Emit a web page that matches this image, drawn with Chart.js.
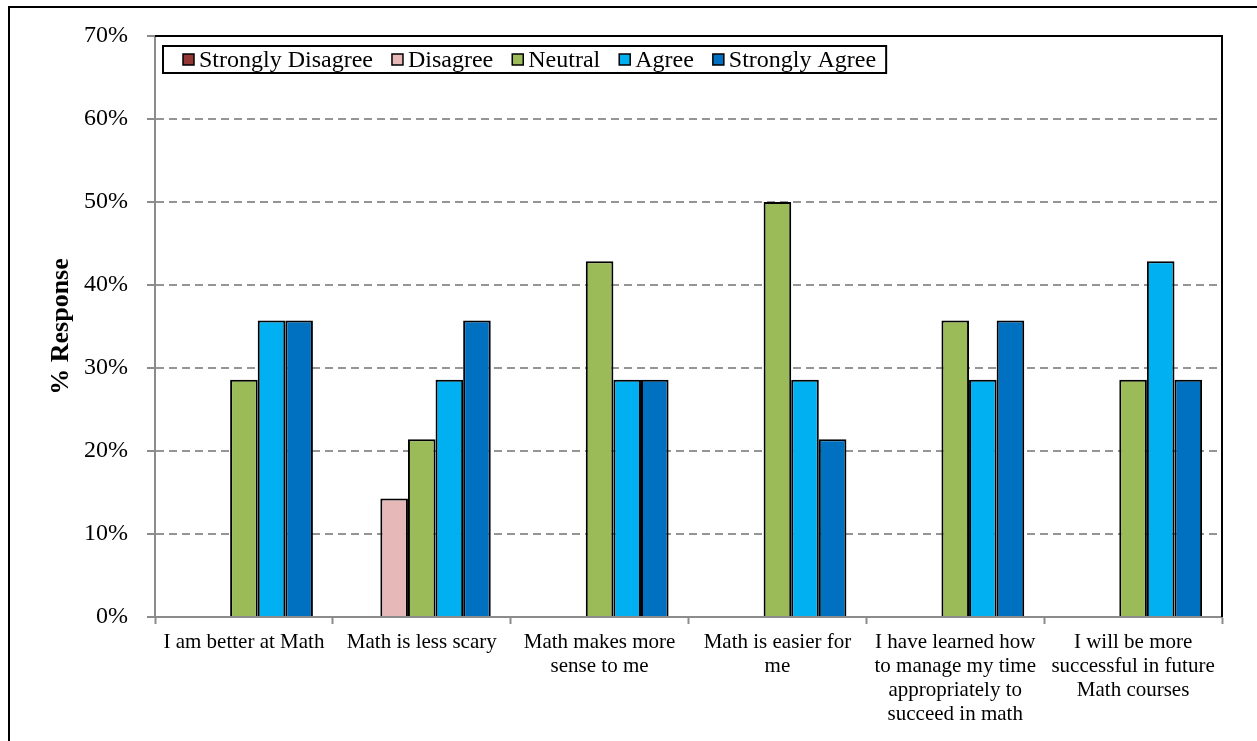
<!DOCTYPE html>
<html>
<head>
<meta charset="utf-8">
<script src="https://cdn.jsdelivr.net/npm/chart.js@4/dist/chart.umd.min.js"></script>
<style>
  html, body { margin: 0; padding: 0; background: #ffffff; }
  canvas { display: block; }
</style>
</head>
<body>
<canvas id="chart" width="1257" height="741"></canvas>
<script>
// Survey statements (x-axis categories, wrapped over several lines)
const categories = [
  ['I am better at Math'],
  ['Math is less scary'],
  ['Math makes more', 'sense to me'],
  ['Math is easier for', 'me'],
  ['I have learned how', 'to manage my time', 'appropriately to', 'succeed in math'],
  ['I will be more', 'successful in future', 'Math courses']
];

// Percentage of responses for each answer option
const stronglyDisagree = [0, 0, 0, 0, 0, 0];
const disagree         = [0, 14.29, 0, 0, 0, 0];
const neutral          = [28.57, 21.43, 42.86, 50.00, 35.71, 28.57];
const agree            = [35.71, 28.57, 28.57, 28.57, 28.57, 42.86];
const stronglyAgree    = [35.71, 35.71, 28.57, 21.43, 35.71, 28.57];

// Value axis
const yMin = 0;
const yMax = 70;
const yStep = 10;
const yTitle = '% Response';

const SERIF = "'Liberation Serif', 'Times New Roman', serif";

const series = [
  { label: 'Strongly Disagree', data: stronglyDisagree, color: '#953735' },
  { label: 'Disagree',          data: disagree,         color: '#E6B9B8' },
  { label: 'Neutral',           data: neutral,          color: '#9BBB59' },
  { label: 'Agree',             data: agree,            color: '#00B0F0' },
  { label: 'Strongly Agree',    data: stronglyAgree,    color: '#0070C0' }
];

// Outer frame lines around the figure
const framePlugin = {
  id: 'frame',
  afterDraw(chart) {
    const ctx = chart.ctx;
    ctx.save();
    ctx.strokeStyle = '#000';
    ctx.lineWidth = 2;
    ctx.beginPath();
    ctx.moveTo(9, 741);
    ctx.lineTo(9, 7);
    ctx.lineTo(1257, 7);
    ctx.stroke();
    ctx.restore();
  }
};

// Black top and right edges of the plot area
const plotEdgePlugin = {
  id: 'plotEdge',
  afterDatasetsDraw(chart) {
    const { ctx, chartArea: a } = chart;
    ctx.save();
    ctx.strokeStyle = '#000';
    ctx.lineWidth = 2;
    ctx.beginPath();
    ctx.moveTo(a.left, a.top);
    ctx.lineTo(a.right, a.top);
    ctx.lineTo(a.right, a.bottom);
    ctx.stroke();
    ctx.restore();
  }
};

// Boxed legend placed inside the plot area
const insetLegendPlugin = {
  id: 'insetLegend',
  afterDatasetsDraw(chart) {
    const ctx = chart.ctx;
    const a = chart.chartArea;
    const boxLeft = a.left + 8;
    const boxTop = a.top + 10;
    const boxH = 27;
    const marker = 11;
    const markerGap = 5;
    const itemGap = 19;
    ctx.save();
    ctx.font = '24px ' + SERIF;
    ctx.textBaseline = 'middle';
    ctx.textAlign = 'left';
    const cy = boxTop + boxH / 2;
    let x = boxLeft + 20;
    chart.data.datasets.forEach((ds) => {
      ctx.fillStyle = ds.backgroundColor;
      ctx.fillRect(x, cy - marker / 2, marker, marker);
      ctx.strokeStyle = '#000';
      ctx.lineWidth = 1.5;
      ctx.strokeRect(x, cy - marker / 2, marker, marker);
      x += marker + markerGap;
      ctx.fillStyle = '#000';
      ctx.fillText(ds.label, x, cy + 1);
      x += ctx.measureText(ds.label).width + itemGap;
    });
    const boxRight = x - itemGap + 10;
    ctx.strokeStyle = '#000';
    ctx.lineWidth = 2;
    ctx.strokeRect(boxLeft, boxTop, boxRight - boxLeft, boxH);
    ctx.restore();
  }
};

new Chart(document.getElementById('chart'), {
  type: 'bar',
  data: {
    labels: categories,
    datasets: series.map((s) => ({
      label: s.label,
      data: s.data,
      backgroundColor: s.color,
      borderColor: '#000',
      borderWidth: (c) => (c.raw ? 2 : 0),
      categoryPercentage: 0.776,
      barPercentage: 1.0
    }))
  },
  options: {
    responsive: false,
    animation: false,
    events: [],
    layout: { padding: { left: 46, right: 35, top: 36, bottom: 0 } },
    plugins: {
      legend: { display: false },
      title: { display: false },
      tooltip: { enabled: false }
    },
    scales: {
      x: {
        afterFit(scale) { scale.height = 124; },
        border: { display: true, color: '#8c8c8c', width: 2 },
        grid: {
          display: true,
          offset: true,
          drawOnChartArea: false,
          drawTicks: true,
          tickLength: 7,
          tickColor: '#8c8c8c',
          tickWidth: 2
        },
        ticks: {
          autoSkip: false,
          maxRotation: 0,
          minRotation: 0,
          padding: 6,
          color: '#000',
          font: { family: SERIF, size: 21, lineHeight: 24 / 21 }
        }
      },
      y: {
        min: yMin,
        max: yMax,
        afterFit(scale) { scale.width = 109; },
        border: { display: true, color: '#8c8c8c', width: 2, dash: [8, 5] },
        grid: {
          display: true,
          drawOnChartArea: true,
          drawTicks: true,
          tickLength: 8,
          color: '#959595',
          lineWidth: 2,
          tickColor: '#8c8c8c',
          tickWidth: 2,
          tickBorderDash: []
        },
        ticks: {
          stepSize: yStep,
          padding: 19,
          color: '#000',
          font: { family: SERIF, size: 24 },
          callback: (v) => v + '%'
        },
        title: {
          display: true,
          text: yTitle,
          color: '#000',
          padding: { top: 0, bottom: 0 },
          font: { family: SERIF, size: 26, weight: 'bold', lineHeight: 1.2 }
        }
      }
    }
  },
  plugins: [plotEdgePlugin, insetLegendPlugin, framePlugin]
});
</script>
</body>
</html>
